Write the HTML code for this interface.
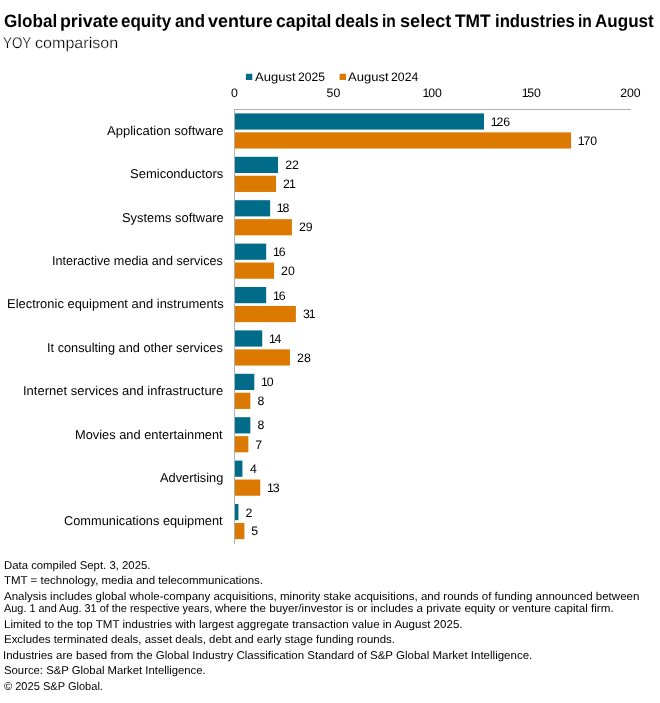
<!DOCTYPE html><html><head><meta charset="utf-8"><title>Chart</title><style>
html,body{margin:0;padding:0;background:#fff}
body{width:660px;height:703px;position:relative;overflow:hidden;font-family:"Liberation Sans", sans-serif;color:#000}
#tx{position:absolute;left:0;top:0;width:660px;height:703px;will-change:transform}
.t{position:absolute;white-space:pre;line-height:1;margin:0;transform-origin:0 0;text-rendering:geometricPrecision}
.b{position:absolute}
.n{-webkit-text-stroke:0.25px #fff}
.t i{font-style:normal;margin-left:-0.9px;margin-right:-1.2px}
.teal{background:#006c89}.orange{background:#dc7900}
</style></head><body>
<div class="b" style="left:234px;top:109px;width:397px;height:1px;background:#b0b0b0"></div>
<div class="b" style="left:234px;top:109px;width:1px;height:435px;background:#b0b0b0"></div>
<svg class="b" style="left:0;top:0" width="660" height="703" viewBox="0 0 660 703">
<rect x="245.9" y="73.8" width="6.4" height="6.2" fill="#006c89"/>
<rect x="339.6" y="73.8" width="6.4" height="6.2" fill="#dc7900"/>
<rect x="235.00" y="113.40" width="248.98" height="16.20" fill="#006c89"/>
<rect x="235.00" y="132.35" width="336.10" height="16.20" fill="#dc7900"/>
<rect x="235.00" y="156.80" width="43.06" height="16.20" fill="#006c89"/>
<rect x="235.00" y="175.75" width="41.08" height="16.20" fill="#dc7900"/>
<rect x="235.00" y="200.20" width="35.14" height="16.20" fill="#006c89"/>
<rect x="235.00" y="219.15" width="56.92" height="16.20" fill="#dc7900"/>
<rect x="235.00" y="243.60" width="31.18" height="16.20" fill="#006c89"/>
<rect x="235.00" y="262.55" width="39.10" height="16.20" fill="#dc7900"/>
<rect x="235.00" y="287.00" width="31.18" height="16.20" fill="#006c89"/>
<rect x="235.00" y="305.95" width="60.88" height="16.20" fill="#dc7900"/>
<rect x="235.00" y="330.40" width="27.22" height="16.20" fill="#006c89"/>
<rect x="235.00" y="349.35" width="54.94" height="16.20" fill="#dc7900"/>
<rect x="235.00" y="373.80" width="19.30" height="16.20" fill="#006c89"/>
<rect x="235.00" y="392.75" width="15.34" height="16.20" fill="#dc7900"/>
<rect x="235.00" y="417.20" width="15.34" height="16.20" fill="#006c89"/>
<rect x="235.00" y="436.15" width="13.36" height="16.20" fill="#dc7900"/>
<rect x="235.00" y="460.60" width="7.42" height="16.20" fill="#006c89"/>
<rect x="235.00" y="479.55" width="25.24" height="16.20" fill="#dc7900"/>
<rect x="235.00" y="504.00" width="3.46" height="16.20" fill="#006c89"/>
<rect x="235.00" y="522.95" width="9.40" height="16.20" fill="#dc7900"/>
</svg>
<div id="tx">
<div class="t" style="left:3.51px;top:12.00px;font-size:18px;transform:scaleX(0.9491);font-weight:bold">Global</div>
<div class="t" style="left:59.89px;top:12.00px;font-size:18px;transform:scaleX(0.9890);font-weight:bold">private</div>
<div class="t" style="left:121.47px;top:12.00px;font-size:18px;transform:scaleX(0.9453);font-weight:bold">equity</div>
<div class="t" style="left:175.45px;top:12.00px;font-size:18px;transform:scaleX(0.9350);font-weight:bold">and</div>
<div class="t" style="left:207.59px;top:12.00px;font-size:18px;transform:scaleX(0.9957);font-weight:bold">venture</div>
<div class="t" style="left:276.17px;top:12.00px;font-size:18px;transform:scaleX(0.9725);font-weight:bold">capital</div>
<div class="t" style="left:335.35px;top:12.00px;font-size:18px;transform:scaleX(0.9502);font-weight:bold">deals</div>
<div class="t" style="left:382.48px;top:12.00px;font-size:18px;transform:scaleX(0.8671);font-weight:bold">in</div>
<div class="t" style="left:399.90px;top:12.00px;font-size:18px;transform:scaleX(1.0073);font-weight:bold">select</div>
<div class="t" style="left:455.14px;top:12.00px;font-size:18px;transform:scaleX(0.9625);font-weight:bold">TMT</div>
<div class="t" style="left:495.13px;top:12.00px;font-size:18px;transform:scaleX(0.9288);font-weight:bold">industries</div>
<div class="t" style="left:578.48px;top:12.00px;font-size:18px;transform:scaleX(0.8671);font-weight:bold">in</div>
<div class="t" style="left:595.23px;top:12.00px;font-size:18px;transform:scaleX(0.9468);font-weight:bold">August</div>
<div class="t n" style="left:3.47px;top:36.00px;font-size:15.5px;transform:scaleX(0.8650)">YOY</div>
<div class="t n" style="left:34.51px;top:36.00px;font-size:15.5px;transform:scaleX(1.0382)">comparison</div>
<div class="t" style="left:255.29px;top:71.00px;font-size:12.3px;transform:scaleX(1.0602)">August</div>
<div class="t" style="left:298.05px;top:71.00px;font-size:12.3px;transform:scaleX(0.9872)">2025</div>
<div class="t" style="left:348.49px;top:71.00px;font-size:12.3px;transform:scaleX(1.0602)">August</div>
<div class="t" style="left:391.24px;top:71.00px;font-size:12.3px;transform:scaleX(0.9963)">2024</div>
<div class="t" style="left:231.10px;top:87.00px;font-size:12.3px;transform:scaleX(1.0000)">0</div>
<div class="t" style="left:326.58px;top:87.00px;font-size:12.3px;transform:scaleX(1.0000)">50</div>
<div class="t" style="left:423.45px;top:87.00px;font-size:12.3px;transform:scaleX(1.0000)"><i>1</i>00</div>
<div class="t" style="left:522.52px;top:87.00px;font-size:12.3px;transform:scaleX(1.0000)"><i>1</i>50</div>
<div class="t" style="left:620.19px;top:87.00px;font-size:12.3px;transform:scaleX(1.0000)">200</div>
<div class="t" style="left:107.31px;top:125.00px;font-size:12.8px;transform:scaleX(1.0171)">Application software</div>
<div class="t" style="left:491.63px;top:116.00px;font-size:12.3px;transform:scaleX(1.0000)"><i>1</i>26</div>
<div class="t" style="left:578.73px;top:135.00px;font-size:12.3px;transform:scaleX(1.0000)"><i>1</i>70</div>
<div class="t" style="left:129.59px;top:168.00px;font-size:12.8px;transform:scaleX(1.0163)">Semiconductors</div>
<div class="t" style="left:285.23px;top:159.00px;font-size:12.3px;transform:scaleX(1.0000)">22</div>
<div class="t" style="left:282.99px;top:178.00px;font-size:12.3px;transform:scaleX(1.0000)">2<i>1</i></div>
<div class="t" style="left:121.61px;top:212.00px;font-size:12.8px;transform:scaleX(1.0081)">Systems software</div>
<div class="t" style="left:277.66px;top:202.00px;font-size:12.3px;transform:scaleX(1.0000)"><i>1</i>8</div>
<div class="t" style="left:298.99px;top:221.00px;font-size:12.3px;transform:scaleX(1.0000)">29</div>
<div class="t" style="left:52.43px;top:255.00px;font-size:12.8px;transform:scaleX(0.9885)">Interactive media and services</div>
<div class="t" style="left:273.90px;top:246.00px;font-size:12.3px;transform:scaleX(1.0000)"><i>1</i>6</div>
<div class="t" style="left:281.11px;top:265.00px;font-size:12.3px;transform:scaleX(1.0000)">20</div>
<div class="t" style="left:6.64px;top:298.00px;font-size:12.8px;transform:scaleX(1.0121)">Electronic equipment and instruments</div>
<div class="t" style="left:273.90px;top:290.00px;font-size:12.3px;transform:scaleX(1.0000)"><i>1</i>6</div>
<div class="t" style="left:302.88px;top:308.00px;font-size:12.3px;transform:scaleX(1.0000)">3<i>1</i></div>
<div class="t" style="left:47.39px;top:342.00px;font-size:12.8px;transform:scaleX(0.9964)">It consulting and other services</div>
<div class="t" style="left:269.83px;top:333.00px;font-size:12.3px;transform:scaleX(1.0000)"><i>1</i>4</div>
<div class="t" style="left:297.10px;top:352.00px;font-size:12.3px;transform:scaleX(1.0000)">28</div>
<div class="t" style="left:23.05px;top:385.00px;font-size:12.8px;transform:scaleX(1.0160)">Internet services and infrastructure</div>
<div class="t" style="left:262.00px;top:376.00px;font-size:12.3px;transform:scaleX(1.0000)"><i>1</i>0</div>
<div class="t" style="left:257.51px;top:395.00px;font-size:12.3px;transform:scaleX(1.0000)">8</div>
<div class="t" style="left:74.91px;top:429.00px;font-size:12.8px;transform:scaleX(1.0029)">Movies and entertainment</div>
<div class="t" style="left:257.51px;top:419.00px;font-size:12.3px;transform:scaleX(1.0000)">8</div>
<div class="t" style="left:255.15px;top:439.00px;font-size:12.3px;transform:scaleX(1.0000)">7</div>
<div class="t" style="left:159.95px;top:472.00px;font-size:12.8px;transform:scaleX(1.0007)">Advertising</div>
<div class="t" style="left:249.88px;top:463.00px;font-size:12.3px;transform:scaleX(1.0000)">4</div>
<div class="t" style="left:267.95px;top:482.00px;font-size:12.3px;transform:scaleX(1.0000)"><i>1</i>3</div>
<div class="t" style="left:64.03px;top:515.00px;font-size:12.8px;transform:scaleX(1.0002)">Communications equipment</div>
<div class="t" style="left:245.48px;top:507.00px;font-size:12.3px;transform:scaleX(1.0000)">2</div>
<div class="t" style="left:251.31px;top:525.00px;font-size:12.3px;transform:scaleX(1.0000)">5</div>
<div class="t" style="left:3.58px;top:561.00px;font-size:11.3px;transform:scaleX(1.0049)">Data compiled Sept. 3, 2025.</div>
<div class="t" style="left:4.33px;top:576.00px;font-size:11.3px;transform:scaleX(1.0162)">TMT = technology, media and telecommunications.</div>
<div class="t" style="left:4.38px;top:592.00px;font-size:11.3px;transform:scaleX(1.0199)">Analysis includes global whole-company acquisitions, minority stake acquisitions, and rounds of funding announced between</div>
<div class="t" style="left:4.45px;top:604.00px;font-size:11.3px;transform:scaleX(0.9641)">Aug. 1 and Aug. 31 of the respective years,</div>
<div class="t" style="left:215.29px;top:604.00px;font-size:11.3px;transform:scaleX(1.0290)">where the buyer/investor is or includes a private equity or venture capital firm.</div>
<div class="t" style="left:3.60px;top:620.00px;font-size:11.3px;transform:scaleX(1.0236)">Limited to the top TMT industries with largest aggregate transaction value in August 2025.</div>
<div class="t" style="left:3.60px;top:635.00px;font-size:11.3px;transform:scaleX(1.0140)">Excludes terminated deals, asset deals, debt and early stage funding rounds.</div>
<div class="t" style="left:3.19px;top:651.00px;font-size:11.3px;transform:scaleX(1.0183)">Industries are based from the Global Industry Classification Standard of S&amp;P Global Market Intelligence.</div>
<div class="t" style="left:3.52px;top:666.00px;font-size:11.3px;transform:scaleX(1.0017)">Source: S&amp;P Global Market Intelligence.</div>
<div class="t" style="left:4.16px;top:682.00px;font-size:11.3px;transform:scaleX(0.9788)">© 2025 S&amp;P Global.</div>
</div>
</body></html>
